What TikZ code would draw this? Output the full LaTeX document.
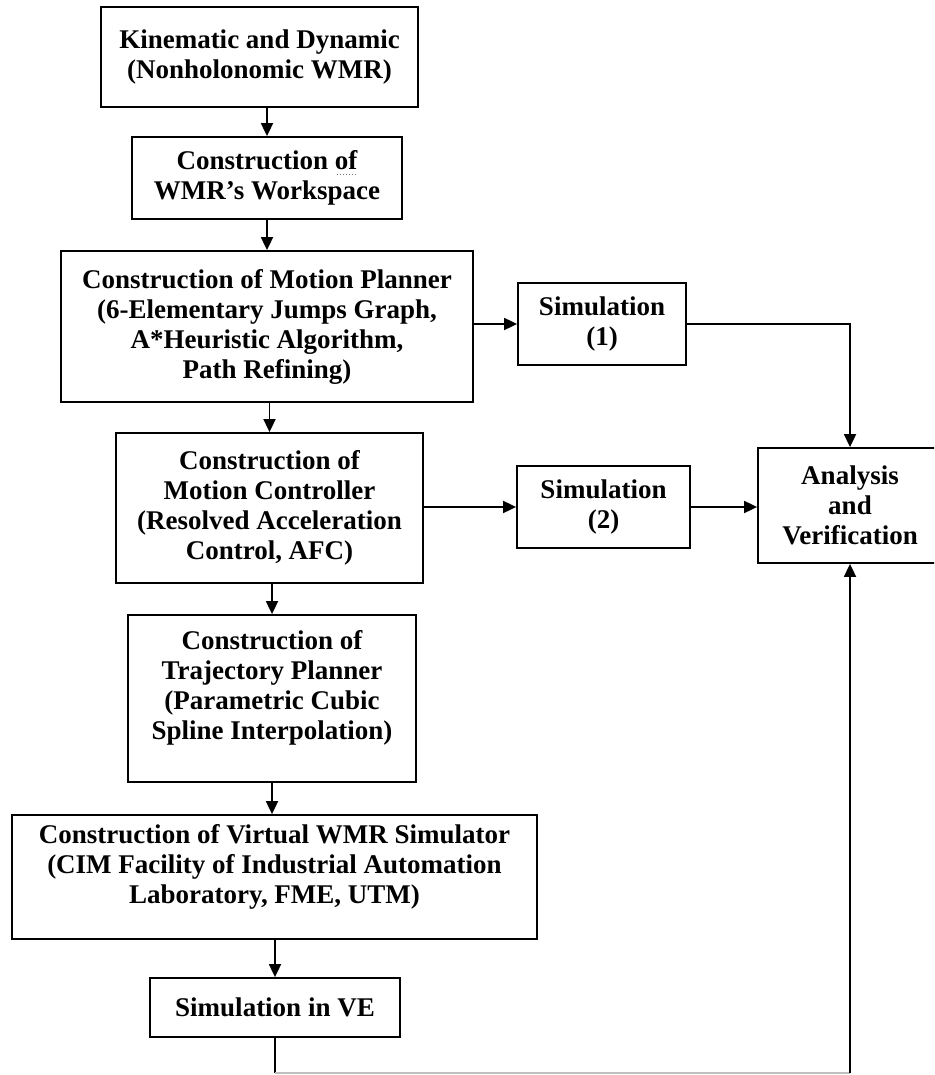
\documentclass[tikz,border=0pt]{standalone}
\usepackage{fontspec}
\setmainfont{Liberation Serif}
\usetikzlibrary{arrows.meta,calc}
\begin{document}
\begin{tikzpicture}[x=1pt,y=-1pt,
  box/.style={draw=black,line width=1.8pt,inner sep=0pt,align=center,
    font=\fontsize{27}{30}\selectfont\bfseries},
  txt/.style={inner sep=0pt,align=center,font=\fontsize{27}{30}\selectfont\bfseries},
  arr/.style={line width=1.8pt,-{Triangle[length=13pt,width=12pt]}},
  ln/.style={line width=1.8pt}]
\useasboundingbox (0,0) rectangle (934,1075);
\begin{scope}
\clip (0,0) rectangle (934,1075);
\node[box,minimum width=317pt,minimum height=100pt] (b1) at (259.5,57)
  {Kinematic and Dynamic\\(Nonholonomic WMR)};
\node[box,minimum width=270pt,minimum height=82pt] (b2) at (267,178)
  {Construction of\\WMR’s Workspace};
\node[box,minimum width=412pt,minimum height=151pt] (b3) at (267,326.5)
  {Construction of Motion Planner\\(6-Elementary Jumps Graph,\\A*Heuristic Algorithm,\\Path Refining)};
\node[box,minimum width=168pt,minimum height=82pt] (s1) at (602,324)
  {Simulation\\(1)};
\node[box,minimum width=307pt,minimum height=150pt] (b4) at (269.5,508)
  {Construction of\\Motion Controller\\(Resolved Acceleration\\Control, AFC)};
\node[box,minimum width=173pt,minimum height=82pt] (s2) at (603.5,507)
  {Simulation\\(2)};
\node[box,minimum width=184pt,minimum height=115pt] (av) at (850,505.5)
  {Analysis\\and\\Verification};
\node[box,minimum width=288pt,minimum height=167pt] (b5) at (272,698.5) {};
\node[txt] (t5) at (272,688) {Construction of\\Trajectory Planner\\(Parametric Cubic\\Spline Interpolation)};
\node[box,minimum width=525pt,minimum height=124pt] (b6) at (274.5,877) {};
\node[txt] (t6) at (274.5,867) {Construction of Virtual WMR Simulator\\(CIM Facility of Industrial Automation\\Laboratory, FME, UTM)};
\node[box,minimum width=250pt,minimum height=59pt] (ve) at (275,1007.5)
  {Simulation in VE};
\coordinate (c1) at (275,1073);
\coordinate (c2) at (850,1073);

% small dotted proofing mark under "of"
\draw[dotted,black!55,line width=1pt] ($(b2.center)+(70,-3)$) -- ($(b2.center)+(91,-3)$);

\draw[arr] (b1.south -| b2.north) -- (b2.north);
\draw[arr] (b2.south) -- (b3.north -| b2.south);
\draw[arr] (b3.south -| b4.north) -- (b4.north);
\draw[arr] (b4.south -| b5.north) -- (b5.north);
\draw[arr] (b5.south) -- (b6.north -| b5.south);
\draw[arr] (b6.south -| ve.north) -- (ve.north);
\draw[arr] (b3.east |- s1.west) -- (s1.west);
\draw[arr] (b4.east |- s2.west) -- (s2.west);
\draw[arr] (s2.east) -- (s2.east -| av.west);
\draw[arr] (s1.east) -| (av.north);
\draw[ln] (ve.south) -- (c1);
\draw[line width=1.2pt,black!25] (c1) -- (c2);
\draw[arr] (c2) -- (av.south);
\end{scope}
\end{tikzpicture}
\end{document}
